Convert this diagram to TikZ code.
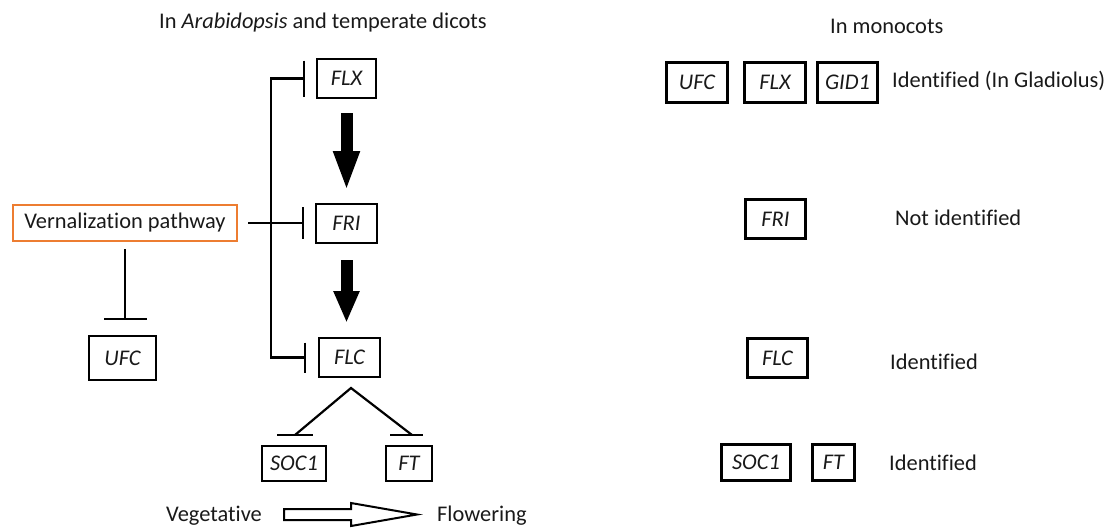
\documentclass[tikz,border=0pt]{standalone}
\usepackage{fontspec}
\setmainfont{Carlito}[Ligatures={NoCommon,NoRare}]
\usetikzlibrary{arrows.meta,calc}
\definecolor{vernorange}{RGB}{237,125,49}
\definecolor{ink}{RGB}{25,25,25}

\begin{document}
\begin{tikzpicture}[x=1pt,y=-1pt,
  every node/.style={font=\fontsize{22.4}{27}\selectfont, text=ink},
  gene/.style={draw=black, line width=2pt, inner sep=0pt,
    font=\fontsize{22.4}{27}\selectfont\itshape},
  mgene/.style={gene, line width=3pt},
  note/.style={anchor=base west, inner sep=0pt},
  link/.style={draw=black, line width=2.2pt},
  inhibit/.style={link, -{Bar[width=#1, line width=2.2pt]}},
  inhibit/.default=34pt,
  bigarrow/.style={draw=black, line width=12pt, -{Triangle[width=24pt,length=#1]}},
]
\path[use as bounding box] (0,0) rectangle (1107,527);
\clip (0,0) rectangle (1107,527);

% ---- titles ----
\node[note] (tl) at (159,29) {In \textit{Arabidopsis} and temperate dicots};
\node[note] (tr) at (830,34) {In monocots};

% ---- dicot pathway ----
\node[gene, minimum width=59pt, minimum height=39pt] (flx) at (346.5,78.5) {FLX};
\node[gene, minimum width=61pt, minimum height=39pt] (fri) at (346.5,223.5) {FRI};
\node[gene, minimum width=61pt, minimum height=39pt] (flc) at (349.5,357.5) {FLC};
\node[gene, minimum width=67pt, minimum height=44pt] (ufc) at (122.5,358) {UFC};
\node[gene, minimum width=64pt, minimum height=35pt] (soc1) at (294,463.5) {SOC1};
\node[gene, minimum width=46pt, minimum height=35pt] (ft) at (409,463.5) {FT};
\node[draw=vernorange, line width=2.5pt, minimum width=224pt, minimum height=36pt,
      inner sep=0pt] (vern) at (125,223) {Vernalization pathway};

% vernalization represses FRI, and through the trunk FLX and FLC
\draw[inhibit=32pt, shorten <=10pt, shorten >=11pt] (vern.east) -- (vern.east -| fri.west);
\coordinate (trunk) at ($(vern.east)!0.5!(vern.east -| fri.west)+(-6,0)$);
\draw[inhibit=36pt, shorten >=11pt] (trunk) |- (flx.west);
\draw[inhibit=30pt, shorten >=12pt] (trunk) |- (flc.west);
% vernalization represses UFC
\draw[inhibit=43pt, shorten <=7pt, shorten >=15pt] (vern.south) -- (vern.south |- ufc.north);

% FLX -> FRI -> FLC
\draw[bigarrow=40pt, shorten <=14pt, shorten >=12pt] (flx.south) -- (fri.north);
\draw[bigarrow=32pt, shorten <=16pt, shorten >=14pt] (fri.south) -- (fri.south |- flc.north);

% FLC represses SOC1 and FT
\coordinate (apex) at ($(flc.south)+(1.5,10)$);
\coordinate (socend) at ($(soc1.north)+(1,-10)$);
\coordinate (ftend) at ($(ft.north)+(3,-10)$);
\draw[link] (socend) -- (apex) -- (ftend);
\draw[link] ($(socend)+(-18,0)$) -- ($(socend)+(18,0)$);
\draw[link] ($(ft.north)+(-19,-10)$) -- ($(ft.north)+(14,-10)$);

% vegetative to flowering
\node[note] (veg) at (166,521) {Vegetative};
\node[note] (flow) at (437,521) {Flowering};
\draw[line width=2pt, line join=miter]
  (284,509) -- (351,509) -- (351,503) -- (417,514.5) -- (351,526) -- (351,520)
  -- (284,520) -- cycle;

% ---- monocots ----
\node[mgene, minimum width=61pt, minimum height=40pt] (mufc) at (697,82.5) {UFC};
\node[mgene, minimum width=61pt, minimum height=40pt] (mflx) at (775,82.5) {FLX};
\node[mgene, minimum width=60pt, minimum height=40pt] (mgid) at (847.5,82.5) {GID1};
\node[mgene, minimum width=60pt, minimum height=39pt] (mfri) at (775.5,219) {FRI};
\node[mgene, minimum width=60pt, minimum height=39pt] (mflc) at (777.5,358) {FLC};
\node[mgene, minimum width=69pt, minimum height=36pt] (msoc) at (756,462.5) {SOC1};
\node[mgene, minimum width=42pt, minimum height=36pt] (mft) at (833.5,462.5) {FT};

\node[note] (n1) at (892,87) {Identified (In Gladiolus)};
\node[note] (n2) at (895,225) {Not identified};
\node[note] (n3) at (890,369) {Identified};
\node[note] (n4) at (889,470) {Identified};
\end{tikzpicture}
\end{document}
